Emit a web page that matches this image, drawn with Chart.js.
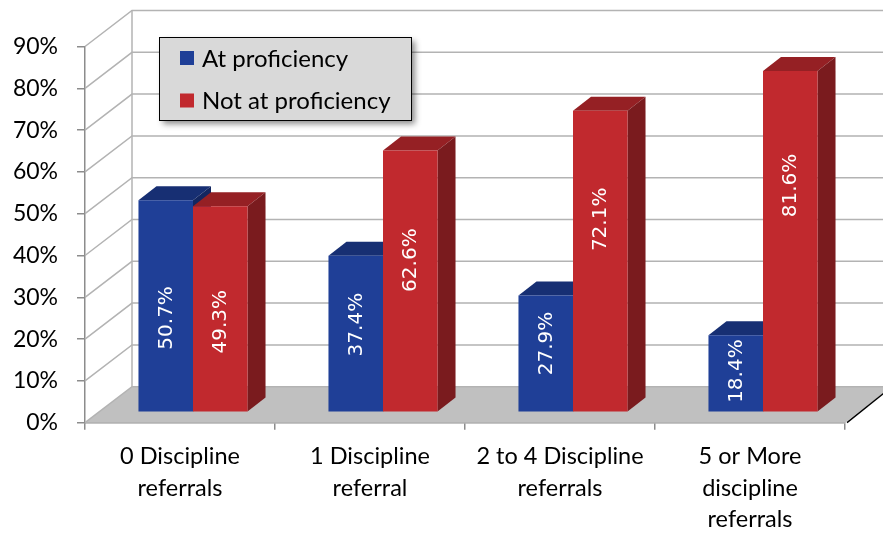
<!DOCTYPE html>
<html>
<head>
<meta charset="utf-8">
<script src="https://cdn.jsdelivr.net/npm/chart.js@4.4.0/dist/chart.umd.min.js"></script>
<style>
  html, body { margin: 0; padding: 0; background: #fff; }
  canvas { display: block; }
</style>
</head>
<body>
<canvas id="grafico" width="883" height="535"></canvas>
<script>
// dados do grafico
const categorias = [
  ['0 Discipline', 'referrals'],
  ['1 Discipline', 'referral'],
  ['2 to 4 Discipline', 'referrals'],
  ['5 or More', 'discipline', 'referrals']
];
const atProficiency = [50.7, 37.4, 27.9, 18.4];
const notAtProficiency = [49.3, 62.6, 72.1, 81.6];
const yMin = 0;
const yMax = 90;
const yStep = 10;

// altura do rotulo dentro da barra (fracao da barra, medida da imagem)
const rotuloAt = [0.443, 0.558, 0.586, 0.53];
const rotuloNot = [0.437, 0.58, 0.639, 0.664];

// deslocamentos do "3D"
const parede = { dx: 47, dy: -36 };
const recuoBarra = { dx: 13, dy: -10.5 };
const profBarra = { dx: 18, dy: -14 };

const cores = [
  { frente: '#1f3f97', topo: '#172f73', lado: '#132660' },
  { frente: '#c1292e', topo: '#952024', lado: '#7a1b1e' }
];

function poligono(ctx, pts, cor) {
  ctx.beginPath();
  ctx.moveTo(pts[0][0], pts[0][1]);
  for (let i = 1; i < pts.length; i++) ctx.lineTo(pts[i][0], pts[i][1]);
  ctx.closePath();
  ctx.fillStyle = cor;
  ctx.fill();
}

const efeito3d = {
  id: 'efeito3d',
  beforeDatasetsDraw(chart) {
    const ctx = chart.ctx;
    const a = chart.chartArea;
    const y = chart.scales.y;

    ctx.save();
    // piso
    poligono(ctx, [
      [a.left, a.bottom], [a.right, a.bottom],
      [a.right + parede.dx, a.bottom + parede.dy], [a.left + parede.dx, a.bottom + parede.dy]
    ], '#c0c0c0');
    ctx.strokeStyle = '#000';
    ctx.lineWidth = 1.5;
    ctx.beginPath();
    ctx.moveTo(a.right + 2, a.bottom);
    ctx.lineTo(a.right + parede.dx, a.bottom + parede.dy);
    ctx.stroke();

    // linhas de grade nas paredes
    ctx.strokeStyle = '#b3b3b3';
    ctx.lineWidth = 1.5;
    y.ticks.forEach(t => {
      const py = y.getPixelForValue(t.value);
      ctx.beginPath();
      ctx.moveTo(a.left, py);
      ctx.lineTo(a.left + parede.dx, py + parede.dy);
      ctx.lineTo(chart.width, py + parede.dy);
      ctx.stroke();
    });
    ctx.beginPath();
    ctx.moveTo(a.left + parede.dx, y.getPixelForValue(yMax) + parede.dy);
    ctx.lineTo(a.left + parede.dx, y.getPixelForValue(yMin) + parede.dy);
    ctx.stroke();
    ctx.restore();

    // topo e lado das barras (antes da frente)
    ctx.save();
    ctx.translate(recuoBarra.dx, recuoBarra.dy);
    chart.data.datasets.forEach((ds, i) => {
      chart.getDatasetMeta(i).data.forEach(el => {
        const esq = el.x - el.width / 2;
        const dir = el.x + el.width / 2;
        poligono(ctx, [
          [esq, el.y], [dir, el.y],
          [dir + profBarra.dx, el.y + profBarra.dy], [esq + profBarra.dx, el.y + profBarra.dy]
        ], cores[i].topo);
        poligono(ctx, [
          [dir, el.y], [dir + profBarra.dx, el.y + profBarra.dy],
          [dir + profBarra.dx, el.base + profBarra.dy], [dir, el.base]
        ], cores[i].lado);
      });
    });
  },
  afterDatasetsDraw(chart) {
    const ctx = chart.ctx;
    // rotulos dos valores, girados
    ctx.fillStyle = '#fff';
    ctx.font = '20px "DejaVu Sans"';
    ctx.textAlign = 'center';
    ctx.textBaseline = 'middle';
    chart.data.datasets.forEach((ds, i) => {
      const fr = i == 0 ? rotuloAt : rotuloNot;
      chart.getDatasetMeta(i).data.forEach((el, j) => {
        const py = el.base - (el.base - el.y) * fr[j];
        ctx.save();
        ctx.translate(el.x, py);
        ctx.rotate(-Math.PI / 2);
        ctx.fillText(ds.data[j].toFixed(1) + '%', 0, 1);
        ctx.restore();
      });
    });
    ctx.restore();
  },
  afterDraw(chart) {
    // legenda
    const ctx = chart.ctx;
    const x0 = 159.5, y0 = 37.5, w = 252, h = 83;
    ctx.save();
    ctx.shadowColor = 'rgba(0,0,0,0.45)';
    ctx.shadowBlur = 6;
    ctx.shadowOffsetX = 3;
    ctx.shadowOffsetY = 3;
    ctx.fillStyle = '#d9d9d9';
    ctx.fillRect(x0, y0, w, h);
    ctx.restore();
    ctx.save();
    ctx.strokeStyle = '#000';
    ctx.lineWidth = 1;
    ctx.strokeRect(x0, y0, w, h);
    ctx.font = '24px Lato';
    ctx.textBaseline = 'middle';
    chart.data.datasets.forEach((ds, i) => {
      const cy = 58 + i * 42.5;
      ctx.fillStyle = ds.backgroundColor;
      ctx.fillRect(180, cy - 7, 14, 14);
      ctx.fillStyle = '#000';
      ctx.fillText(ds.label, 202, cy + 1);
    });
    ctx.restore();
  }
};

const ctx = document.getElementById('grafico');

new Chart(ctx, {
  type: 'bar',
  data: {
    labels: categorias,
    datasets: [
      { label: 'At proficiency', data: atProficiency, backgroundColor: cores[0].frente },
      { label: 'Not at proficiency', data: notAtProficiency, backgroundColor: cores[1].frente }
    ]
  },
  options: {
    responsive: false,
    animation: false,
    devicePixelRatio: 1,
    categoryPercentage: 0.574,
    barPercentage: 1,
    layout: { padding: { top: 46.5, right: 38, left: 0, bottom: 0 } },
    plugins: {
      legend: { display: false },
      tooltip: { enabled: false }
    },
    scales: {
      x: {
        afterFit: s => { s.height = 112.3; },
        grid: { drawOnChartArea: false, drawTicks: true, tickLength: 7, color: '#8c8c8c', lineWidth: 1.5 },
        border: { display: true, color: '#8c8c8c', width: 1.5 },
        ticks: { color: '#000', font: { family: 'Lato', size: 23.5, lineHeight: 1.34 }, padding: 11, maxRotation: 0, autoSkip: false }
      },
      y: {
        min: yMin,
        max: yMax,
        afterFit: s => { s.width = 85; },
        grid: { drawOnChartArea: false, drawTicks: true, tickLength: 8, color: '#8c8c8c', lineWidth: 1.5 },
        border: { display: true, color: '#8c8c8c', width: 1.5 },
        ticks: {
          stepSize: yStep,
          color: '#000',
          font: { family: 'Lato', size: 23 },
          padding: 19,
          callback: v => v + '%'
        }
      }
    }
  },
  plugins: [efeito3d]
});
</script>
</body>
</html>
